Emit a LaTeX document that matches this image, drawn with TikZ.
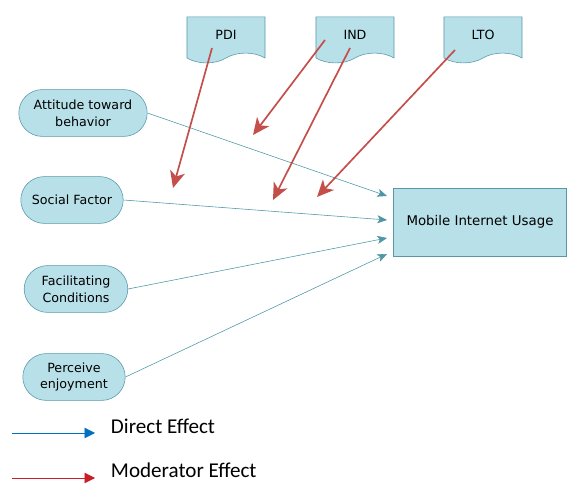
\documentclass[tikz,border=0pt]{standalone}
\usepackage{fontspec}
\setmainfont{Carlito}
\newfontfamily\boxfont{DejaVu Sans}
\usetikzlibrary{shapes,shapes.symbols,shapes.misc,arrows.meta,positioning,calc}
\definecolor{boxfill}{RGB}{184,224,233}
\definecolor{boxline}{RGB}{86,152,170}
\definecolor{directcol}{RGB}{76,150,166}
\definecolor{modcol}{RGB}{196,78,74}
\definecolor{legendblue}{RGB}{0,112,192}
\definecolor{legendred}{RGB}{200,30,40}

\begin{document}
\begin{tikzpicture}[x=0.025cm, y=-0.025cm,
    factor/.style={draw=boxline, fill=boxfill, rounded rectangle, minimum height=1.17cm, align=center, inner sep=3pt, font=\boxfont\fontsize{9}{12}\selectfont},
    moderator/.style={draw=boxline, fill=boxfill, tape, tape bend top=none, tape bend bottom=in and out, tape bend height=7pt, minimum width=1.95cm, minimum height=1.15cm, font=\boxfont\fontsize{9}{11}\selectfont},
    direct/.style={directcol, -{Stealth[length=2.4mm,width=2mm,inset=0.6mm]}},
    moderate/.style={modcol, line width=1.2pt, -{Stealth[length=4.2mm,width=3.8mm,inset=1.2mm]}},
    legend/.style={font=\fontsize{15}{17}\selectfont, anchor=west}]
    \useasboundingbox (0,0) rectangle (568,484);

    % moderators
    \node (pdi) [moderator] at (226,35) {PDI};
    \node (ind) [moderator] at (355,35) {IND};
    \node (lto) [moderator] at (483,35) {LTO};

    % factors
    \node (attitude) [factor, minimum width=3.42cm] at (83,113) {Attitude toward\\behavior};
    \node (social) [factor, minimum width=2.77cm] at (72,200) {Social Factor};
    \node (facilitating) [factor, minimum width=2.8cm] at (76,289) {Facilitating\\Conditions};
    \node (enjoyment) [factor, minimum width=2.77cm] at (74,377) {Perceive\\enjoyment};

    \node (usage) [draw=boxline, fill=boxfill, minimum width=4.32cm, minimum height=1.7cm, font=\boxfont\fontsize{9.5}{11}\selectfont] at (480,222) {Mobile Internet Usage};

    % arrow ends
    \coordinate (in1) at (387,196);
    \coordinate (in2) at (387,220);
    \coordinate (in3) at (387,238);
    \coordinate (in4) at (387,254);
    \coordinate (m1) at (173,188);
    \coordinate (m2) at (253,135);
    \coordinate (m3) at (273,200);
    \coordinate (m4) at (317,197);

    \draw [direct] (attitude.east) -- (in1);
    \draw [direct] (social.east) -- (in2);
    \draw [direct] (facilitating.east) -- (in3);
    \draw [direct] (enjoyment.east) -- (in4);

    \draw [moderate] ($(pdi.center)+(-14,13)$) -- (m1);
    \draw [moderate] ($(ind.center)+(-30,5)$) -- (m2);
    \draw [moderate] ($(ind.center)+(-5,13)$) -- (m3);
    \draw [moderate] ($(lto.center)+(-28,15)$) -- (m4);

    % legend
    \coordinate (d1) at (12,433);
    \coordinate (d2) at (95,433);
    \coordinate (r1) at (12,478);
    \coordinate (r2) at (95,478);
    \draw [legendblue, -{Triangle[length=2.6mm,width=2.6mm]}] (d1) -- (d2);
    \draw [legendred, -{Triangle[length=2.6mm,width=2.6mm]}] (r1) -- (r2);
    \node (directtext) [legend] at (106,426) {Direct Effect};
    \node (modtext) [legend] at (106,470) {Moderator Effect};
\end{tikzpicture}
\end{document}
